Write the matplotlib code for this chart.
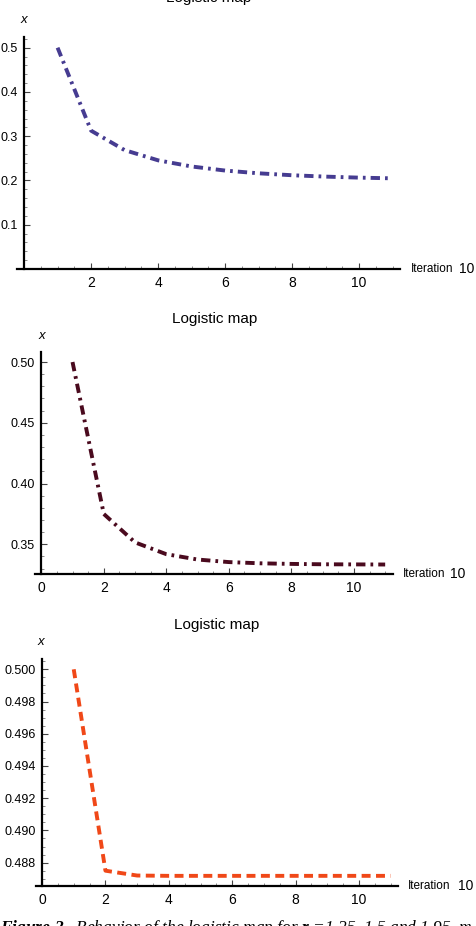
import matplotlib
matplotlib.use("Agg")
import matplotlib.pyplot as plt
from matplotlib.ticker import MultipleLocator, FixedLocator

# iterations n = 1..11
iterations = [1, 2, 3, 4, 5, 6, 7, 8, 9, 10, 11]

# x values (r = 1.25, 1.5, 1.95)
x_r125 = [0.5, 0.3125, 0.2686, 0.2455, 0.2316, 0.2224, 0.2162, 0.2118, 0.2087, 0.2064, 0.2048]
x_r150 = [0.5, 0.375, 0.3516, 0.3419, 0.3375, 0.3354, 0.3344, 0.3339, 0.3336, 0.3335, 0.3334]
x_r195 = [0.5, 0.4875, 0.48720, 0.48718, 0.48718, 0.48718, 0.48718, 0.48718, 0.48718, 0.48718, 0.48718]

yticks_1 = [0.1, 0.2, 0.3, 0.4, 0.5]
yticks_2 = [0.35, 0.40, 0.45, 0.50]
yticks_3 = [0.488, 0.490, 0.492, 0.494, 0.496, 0.498, 0.500]

plt.rcParams['font.family'] = ['Liberation Sans', 'DejaVu Sans']
plt.rcParams['mathtext.fontset'] = 'custom'
plt.rcParams['mathtext.bf'] = 'Liberation Serif:bold:italic'
plt.rcParams['mathtext.rm'] = 'Liberation Serif:italic'

fig = plt.figure(figsize=(4.76, 9.26), dpi=100)

W, H = 476.0, 926.0


def make_axes(left, right, top, bottom):
    return fig.add_axes([left / W, 1 - bottom / H, (right - left) / W, (bottom - top) / H])


def style_axes(ax, xlim, ylim, yticks, yfmt, ymin_step, show_zero, title_y, xlab_px, iter_px, axis_y_px):
    ax.set_xlim(*xlim)
    ax.set_ylim(*ylim)
    for s in ['top', 'right']:
        ax.spines[s].set_visible(False)
    ax.spines['left'].set_position(('data', 0))
    ax.spines['bottom'].set_position(('data', ylim[0]))
    ax.spines['left'].set_linewidth(1.6)
    ax.spines['bottom'].set_linewidth(1.6)
    xt = [0, 2, 4, 6, 8, 10] if show_zero else [2, 4, 6, 8, 10]
    ax.xaxis.set_major_locator(FixedLocator(xt))
    ax.xaxis.set_minor_locator(MultipleLocator(0.5))
    ax.yaxis.set_major_locator(FixedLocator(yticks))
    ax.yaxis.set_minor_locator(MultipleLocator(ymin_step))
    ax.set_xticklabels([str(v) for v in xt])
    ax.set_yticklabels([yfmt.format(v) for v in yticks])
    ax.tick_params(which='major', direction='in', length=4, width=0.8, pad=5, color='#444444')
    ax.tick_params(axis='x', labelsize=10)
    ax.tick_params(axis='y', labelsize=9, pad=4.5)
    ax.tick_params(which='minor', direction='in', length=2, width=0.6, color='#777777')
    ax.patch.set_alpha(0)
    # title and axis labels
    fig.text(ax.get_position().x0 + ax.get_position().width / 2, 1 - title_y / H, 'Logistic map',
             ha='center', va='center', fontsize=11)
    fig.text(xlab_px[0] / W, 1 - xlab_px[1] / H, 'x', style='italic', ha='center', va='center', fontsize=9.5)
    fig.text(iter_px[0] / W, 1 - axis_y_px / H, 'Iteration', ha='left', va='center', fontsize=8.5)
    fig.text(iter_px[1] / W, 1 - axis_y_px / H, '10', ha='center', va='center', fontsize=10)


# panel 1: r = 1.25
ax1 = make_axes(16.7, 400, 36.7, 269)
ax1.plot(iterations, x_r125, color='#463c91', lw=2.8, dashes=(2.4, 1.3, 0.7, 1.3))
style_axes(ax1, (-0.22, 11.22), (0, 0.5248), yticks_1, '{:.1f}', 0.02, False, -2, (24, 20), (411, 467), 268.7)

# panel 2: r = 1.5
ax2 = make_axes(35, 393.3, 351.7, 574)
ax2.plot(iterations, x_r150, color='#4a0a1e', lw=2.8, dashes=(2.4, 1.3, 0.7, 1.3))
style_axes(ax2, (-0.2, 11.26), (0.3256, 0.5085), yticks_2, '{:.2f}', 0.01, True, 319, (41.7, 336), (403, 458), 574)

# panel 3: r = 1.95
ax3 = make_axes(35.7, 398, 659.3, 886)
ax3.plot(iterations, x_r195, color='#f04818', lw=2.8, dashes=(2.3, 1.4))
style_axes(ax3, (-0.2, 11.23), (0.48655, 0.50062), yticks_3, '{:.3f}', 0.0005, True, 625, (41, 642), (408, 466), 886)

# caption (cut off at the bottom edge)
fig.text(0.0, 1 - 918 / H,
         r'$\mathbf{Figure\ 2.}$ Behavior of the logistic map for $\mathbf{r}$ =1.25, 1.5 and 1.95, m',
         family='Liberation Serif', style='italic', fontsize=12.5, ha='left', va='top')

fig.savefig('out.png', dpi=100)
